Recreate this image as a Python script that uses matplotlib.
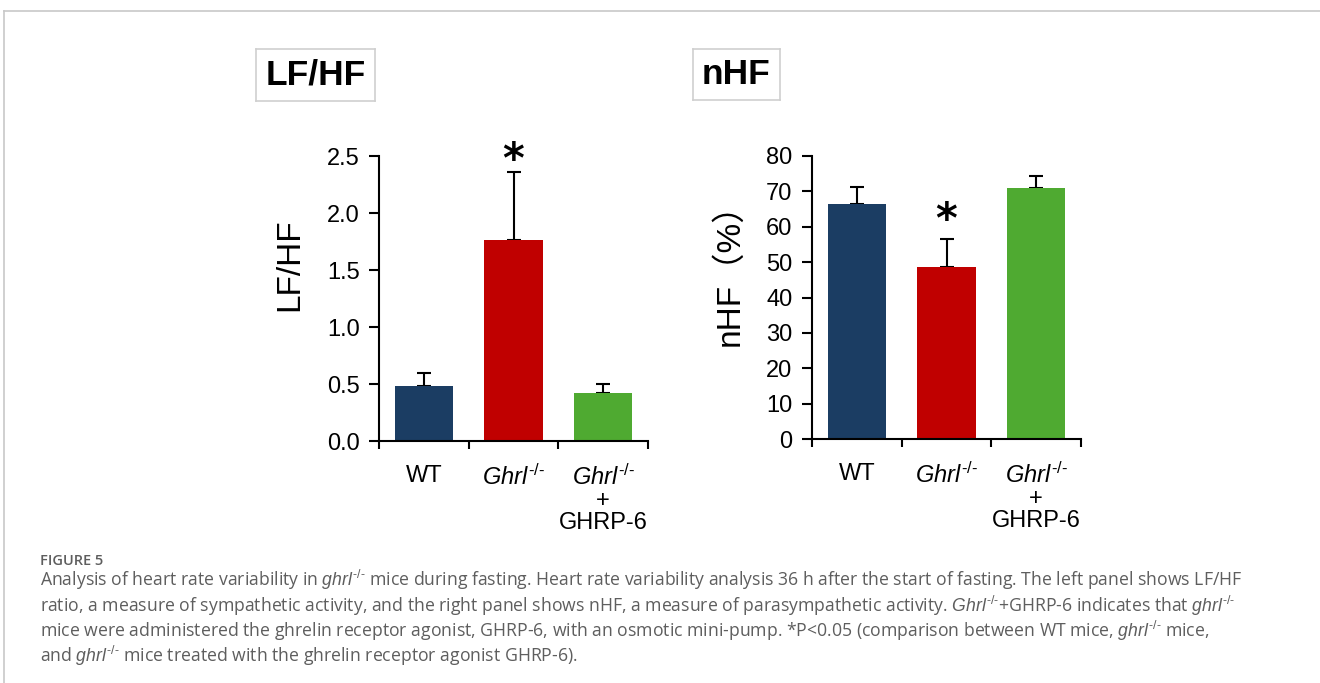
import matplotlib
matplotlib.use("Agg")
import matplotlib.pyplot as plt
from matplotlib.lines import Line2D

plt.rcParams['font.family'] = ['Liberation Sans', 'Noto Sans CJK JP', 'DejaVu Sans']
plt.rcParams['mathtext.fontset'] = 'custom'
plt.rcParams['mathtext.rm'] = 'Liberation Sans'
plt.rcParams['mathtext.it'] = 'Liberation Sans:italic'
plt.rcParams['mathtext.bf'] = 'Liberation Sans:bold'

# data
groups = ['WT', r'$\mathit{Ghrl}^{\text{-/-}}$', '$\\mathit{Ghrl}^{\\text{-/-}}$\n+\nGHRP-6']
colors = ['#1b3d63', '#c00000', '#4faa31']
lfhf_mean = [0.48, 1.76, 0.42]
lfhf_err = [0.12, 0.60, 0.08]
nhf_mean = [66.4, 48.6, 71.0]
nhf_err = [4.8, 7.9, 3.3]
lfhf_ticks = [0.0, 0.5, 1.0, 1.5, 2.0, 2.5]
nhf_ticks = [0, 10, 20, 30, 40, 50, 60, 70, 80]
sig_group = 1

W, H = 1320, 683
fig = plt.figure(figsize=(W / 100, H / 100), dpi=100)

def px(x0, y0, x1, y1):
    # pixel box (top-left origin) -> figure fraction
    return [x0 / W, 1 - y1 / H, (x1 - x0) / W, (y1 - y0) / H]


def panel(ax, means, errs, ticks, fmt, ylabel, label_xy, star_y):
    xs = range(len(means))
    ax.bar(xs, means, width=0.65, color=colors, zorder=2)
    ax.errorbar(xs, means, yerr=[[0] * len(errs), errs], fmt='none',
                ecolor='black', elinewidth=1.5, capsize=5, capthick=1.5, zorder=1)
    ax.set_xlim(-0.5, 2.5)
    ax.set_ylim(ticks[0], ticks[-1])
    ax.set_yticks(ticks)
    ax.set_yticklabels([fmt.format(t) for t in ticks], fontsize=17)
    ax.set_xticks(list(xs))
    ax.set_xticklabels(groups, fontsize=17, va='top', linespacing=1.0)
    ax.set_xticks([-0.5, 0.5, 1.5, 2.5], minor=True)
    ax.tick_params(axis='x', which='major', length=0, pad=17)
    ax.tick_params(axis='x', which='minor', length=6, width=1.5, direction='out')
    ax.tick_params(axis='y', length=7, width=1.5, direction='out', pad=7)
    for s in ['top', 'right']:
        ax.spines[s].set_visible(False)
    for s in ['left', 'bottom']:
        ax.spines[s].set_linewidth(1.5)
    ax.set_ylabel(ylabel, fontsize=24)
    ax.yaxis.set_label_coords(*label_xy)
    ax.annotate('*', xy=(sig_group, star_y), xytext=(0, -17),
                textcoords='offset points', annotation_clip=False,
                ha='center', va='baseline', fontsize=30, fontweight='bold',
                family='DejaVu Sans')


ax1 = fig.add_axes(px(379, 156, 648, 441))
panel(ax1, lfhf_mean, lfhf_err, lfhf_ticks, '{:.1f}', 'LF/HF', (-0.275, 0.62), 2.56)

ax2 = fig.add_axes(px(812, 156, 1081, 439))
panel(ax2, nhf_mean, nhf_err, nhf_ticks, '{:d}', 'nHF（%）', (-0.249, 0.61), 65.0)

# title boxes
for (x0, y0, x1, y1), t in [((256, 49, 375, 101), 'LF/HF'), ((693, 49, 780, 100), 'nHF')]:
    r = fig.add_axes(px(x0, y0, x1, y1))
    r.set_xticks([])
    r.set_yticks([])
    for s in r.spines.values():
        s.set_color('#cfcfcf')
        s.set_linewidth(1.2)
    r.text(0.5, 0.5, t, ha='center', va='center', fontsize=25.5, fontweight='bold',
           transform=r.transAxes)

# card frame
fig.add_artist(Line2D([4 / W, 1], [1 - 11 / H, 1 - 11 / H], color='#c8c8c8', lw=1.2))
fig.add_artist(Line2D([4 / W, 4 / W], [0, 1 - 11 / H], color='#c8c8c8', lw=1.2))

# caption
cap = dict(fontsize=12.7, color='#5e5e5e', family='Open Sans', ha='left', va='baseline')
fig.text(40 / W, 1 - 565 / H, 'FIGURE 5', fontsize=10.5, color='#5e5e5e',
         family='Open Sans', fontweight='semibold', va='baseline')
g = r'$\mathit{ghrl}^{\text{-/-}}$'
G = r'$\mathit{Ghrl}^{\text{-/-}}$'
lines = [
    'Analysis of heart rate variability in ' + g + ' mice during fasting. Heart rate variability analysis 36 h after the start of fasting. The left panel shows LF/HF',
    'ratio, a measure of sympathetic activity, and the right panel shows nHF, a measure of parasympathetic activity. ' + G + '+GHRP-6 indicates that ' + g,
    'mice were administered the ghrelin receptor agonist, GHRP-6, with an osmotic mini-pump. *P<0.05 (comparison between WT mice, ' + g + ' mice,',
    'and ' + g + ' mice treated with the ghrelin receptor agonist GHRP-6).',
]
for i, ln in enumerate(lines):
    fig.text(40 / W, 1 - (586 + 25.5 * i) / H, ln, **cap)

fig.savefig('out.png', dpi=100)
